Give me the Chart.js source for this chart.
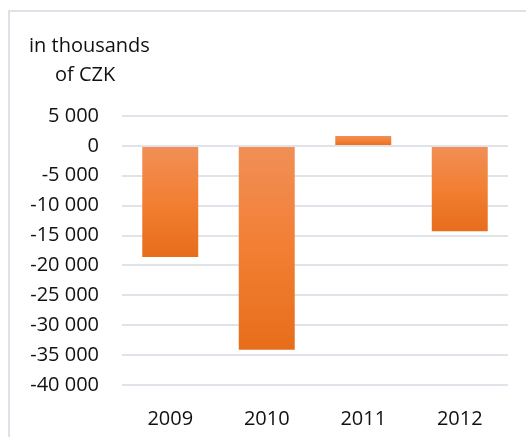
<!DOCTYPE html>
<html lang="en">
<head>
    <meta charset="UTF-8">
    <title>Financial result</title>
    <script src="https://cdn.jsdelivr.net/npm/chart.js@4.4.1/dist/chart.umd.min.js"></script>
    <style>
body {
    margin: 0;
    padding: 0;
    background: #fff;
    overflow: hidden;
}

.frame {
    position: absolute;
    left: 8px;
    top: 10px;
    width: 518px;
    height: 427px;
    border-left: 2px solid #dde2e9;
    border-top: 2px solid #dde2e9;
    box-sizing: border-box;
}

.wrap {
    position: absolute;
    left: 0;
    top: 0;
    width: 526px;
    height: 437px;
}
    </style>
</head>
<body>
    <div class="frame"></div>
    <div class="wrap">
        <canvas id="resultChart" width="526" height="437"></canvas>
    </div>

    <script>
        // data (thousands of CZK)
        const years = ['2009', '2010', '2011', '2012'];
        const results = [-18600, -34100, 1650, -14300];
        const unitLines = ['in thousands', 'of CZK'];

        const FONT = '"Open Sans", sans-serif';

        // spaces as thousands separator, e.g. -40 000
        function fmt(v) {
            return String(v).replace(/\B(?=(\d{3})+(?!\d))/g, ' ');
        }

        // lighter at the top, darker at the bottom of every bar
        function barFill(context) {
            const chart = context.chart;
            if (!chart.chartArea) return '#ed7d31';
            const y = chart.scales.y;
            const v = context.raw;
            const top = y.getPixelForValue(Math.max(v, 0));
            const bottom = y.getPixelForValue(Math.min(v, 0));
            const g = chart.ctx.createLinearGradient(0, top, 0, bottom);
            g.addColorStop(0, '#f18f57');
            g.addColorStop(0.5, '#f27f33');
            g.addColorStop(1, '#e76d1b');
            return g;
        }

        // unit caption in the top left corner
        const unitLabel = {
            id: 'unitLabel',
            afterDraw(chart) {
                const ctx = chart.ctx;
                ctx.save();
                ctx.font = '20px ' + FONT;
                ctx.fillStyle = '#111';
                ctx.textAlign = 'left';
                ctx.textBaseline = 'alphabetic';
                ctx.fillText(unitLines[0], 29, 52);
                ctx.fillText(unitLines[1], 55, 81);
                ctx.restore();
            }
        };

        const ctx = document.getElementById('resultChart').getContext('2d');
        new Chart(ctx, {
            type: 'bar',
            data: {
                labels: years,
                datasets: [{
                    data: results,
                    backgroundColor: barFill,
                    borderWidth: 0,
                    categoryPercentage: 1,
                    barPercentage: 0.58
                }]
            },
            options: {
                responsive: false,
                animation: false,
                layout: {
                    padding: { top: 116, left: 20, right: 18, bottom: 0 }
                },
                plugins: {
                    legend: { display: false },
                    tooltip: { enabled: false }
                },
                scales: {
                    x: {
                        grid: { display: false },
                        border: { display: false },
                        ticks: {
                            color: '#111',
                            font: { family: FONT, size: 20 },
                            padding: 14
                        },
                        afterFit(scale) { scale.height = 52; }
                    },
                    y: {
                        min: -40000,
                        max: 5000,
                        grid: {
                            color: '#e0e4ea',
                            lineWidth: 2,
                            drawTicks: false
                        },
                        border: { display: false },
                        ticks: {
                            stepSize: 5000,
                            color: '#111',
                            font: { family: FONT, size: 20 },
                            padding: 23,
                            callback: v => fmt(v)
                        },
                        afterFit(scale) { scale.width = 102; }
                    }
                }
            },
            plugins: [unitLabel]
        });
    </script>
</body>
</html>
